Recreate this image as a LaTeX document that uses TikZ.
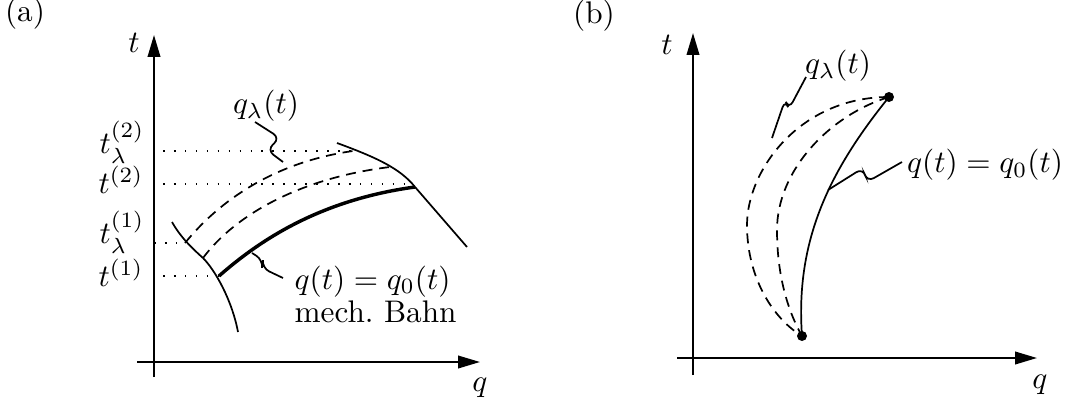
\documentclass[tikz,border=0pt]{standalone}
\usetikzlibrary{arrows.meta}
\begin{document}
\begin{tikzpicture}[x=0.32pt,y=-0.32pt,
  axis/.style={line width=0.65pt,-{Triangle[length=7pt,width=4pt]}},
  curve/.style={line width=0.55pt},
  thickcurve/.style={line width=1.1pt},
  dashcurve/.style={line width=0.55pt,dash pattern=on 3.2pt off 2.2pt},
  dotline/.style={line width=0.5pt,dash pattern=on 0.5pt off 3pt},
  squiggle/.style={line width=0.55pt,rounded corners=2.5pt},
  lbl/.style={inner sep=0pt},
  bigdot/.style={circle,fill,inner sep=0pt,minimum size=3.2pt}]
\useasboundingbox (0,0) rectangle (1067,403);
% ---------------- panel (a) ----------------
\node[lbl] (la) at (25,14) {(a)};
\coordinate (aTb) at (154,377);
\coordinate (aTt) at (154,35);
\coordinate (aQl) at (137,362);
\coordinate (aQr) at (480,362);
\draw[axis] (aTb) -- (aTt);
\draw[axis] (aQl) -- (aQr);
\node[lbl] (at) at (134,43) {$t$};
\node[lbl] (aq) at (480,388) {$q$};
\node[lbl] (tl2) at (122,142) {$t_\lambda^{(2)}$};
\node[lbl] (t2) at (121,180) {$t^{(2)}$};
\node[lbl] (tl1) at (122,232) {$t_\lambda^{(1)}$};
\node[lbl] (t1) at (121,273) {$t^{(1)}$};
% key points
\coordinate (L0) at (172,222);
\coordinate (L1) at (185,243);
\coordinate (L2) at (203,258);
\coordinate (A) at (219,276);
\coordinate (L3) at (238,332);
\coordinate (R0) at (337,143);
\coordinate (R1) at (353,151);
\coordinate (R2) at (390,167);
\coordinate (B) at (415,187);
\coordinate (R3) at (467,247);
% dotted levels
\draw[dotline] (163,151) -- (R1);
\draw[dotline] (163,184) -- (413,184);
\draw[dotline] (154,243) -- (L1);
\draw[dotline] (163,276) -- (A);
% boundary curves
\draw[curve] (L0) .. controls (181,238) and (193,249) .. (L2)
  .. controls (215,270) and (232,300) .. (L3);
\draw[curve] (R0) .. controls (375,157) and (400,168) .. (B) -- (R3);
% varied paths
\draw[dashcurve] (L1) .. controls (220,200) and (275,162) .. (R1);
\draw[dashcurve] (L2) .. controls (235,215) and (300,178) .. (R2);
\draw[thickcurve] (A) .. controls (260,240) and (320,200) .. (B);
% labels
\node[lbl] (aql) at (266,106) {$q_\lambda(t)$};
\draw[squiggle] (255,122) -- (280,138) -- (267,150) -- (283,162);
\node[lbl,anchor=base west] (aq0) at (294,289) {$q(t)=q_0(t)$};
\node[lbl,anchor=base west] (amech) at (294,322) {mech.\ Bahn};
\draw[squiggle] (252,253) -- (263,260) -- (262,268) -- (283,278);
% ---------------- panel (b) ----------------
\node[lbl] (lb) at (594,16) {(b)};
\coordinate (bTb) at (693,375);
\coordinate (bTt) at (693,33);
\coordinate (bQl) at (677,358);
\coordinate (bQr) at (1037,358);
\draw[axis] (bTb) -- (bTt);
\draw[axis] (bQl) -- (bQr);
\node[lbl] (bt) at (667,45) {$t$};
\node[lbl] (bq) at (1040,385) {$q$};
\node[bigdot] (P0) at (802,336) {};
\node[bigdot] (P1) at (889,97) {};
\draw[curve] (P0.center) .. controls (795,240) and (830,170) .. (P1.center);
\draw[dashcurve] (P1.center) .. controls (800,97) and (747,170) .. (747,225)
  .. controls (747,280) and (775,320) .. (P0.center);
\draw[dashcurve] (P1.center) .. controls (830,115) and (777,170) .. (777,230)
  .. controls (777,280) and (790,315) .. (P0.center);
\node[lbl] (bql) at (838,66) {$q_\lambda(t)$};
\draw[squiggle] (806,77) -- (789,109) -- (785,100) -- (772,138);
\node[lbl] (bq0) at (985,165) {$q(t)=q_0(t)$};
\draw[squiggle] (902,162) -- (867,182) -- (863,168) -- (828,190);
\end{tikzpicture}
\end{document}
